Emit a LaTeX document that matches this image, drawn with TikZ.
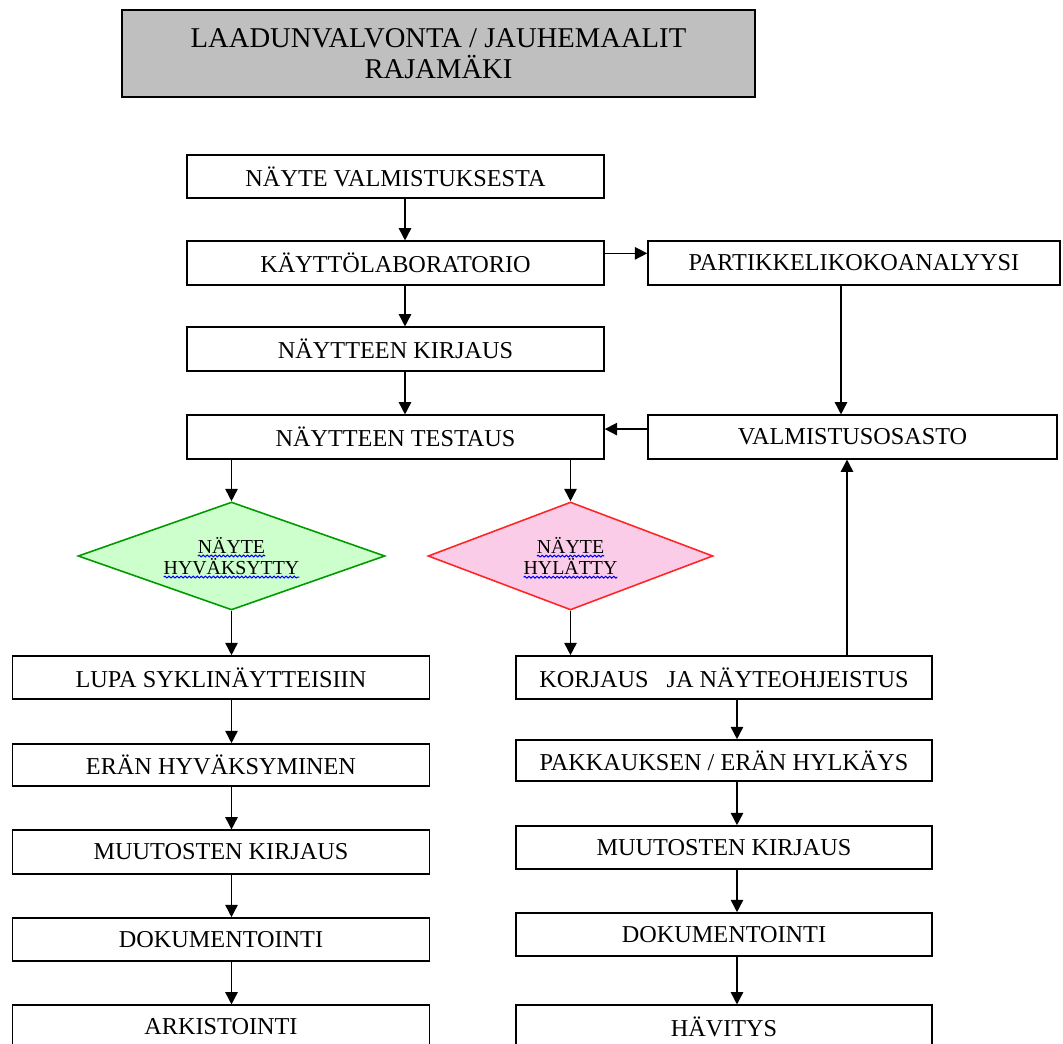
\documentclass[tikz,border=0pt]{standalone}
\usepackage{fontspec}
\setmainfont{Liberation Serif}
\usetikzlibrary{arrows.meta,shapes.geometric,decorations.pathmorphing}

\newcommand{\aalto}[1]{\tikz[baseline=(w.base)]{\node[rectangle,draw=none,fill=none,inner sep=0pt,outer sep=0pt,
    minimum width=0pt,minimum height=0pt](w){#1};
  \draw[overlay,blue,line width=0.6pt,decorate,decoration={snake,amplitude=0.5pt,segment length=2.3pt}]
    ([yshift=-1.5pt]w.base west)--([yshift=-1.5pt]w.base east);}}

\begin{document}
\begin{tikzpicture}[x=0.02cm,y=-0.02cm,line width=0.9pt,>={Triangle[length=7pt,width=7pt]},
  laatikko/.style={draw,line width=0.9pt,minimum width=8.34cm,minimum height=0.87cm,inner sep=0pt,
    font=\fontsize{13.8}{16}\selectfont},
  vinoneliö/.style={diamond,draw,line width=0.9pt,inner sep=0pt,align=center,
    font=\fontsize{11.3}{12}\selectfont}]
  \useasboundingbox (0,0) rectangle (1063,1044);
  % otsikko
  \node[draw,fill=black!25,line width=0.9pt,minimum width=12.66cm,minimum height=1.74cm,align=center,
    font=\fontsize{16.3}{18}\selectfont] (otsikko) at (438.5,53.5) {LAADUNVALVONTA / JAUHEMAALIT\\RAJAMÄKI};
  % ylin haara
  \node[laatikko] (n1) at (395.5,176.5) {NÄYTE VALMISTUKSESTA};
  \node[laatikko] (n2) at (395.5,263) {KÄYTTÖLABORATORIO};
  \node[laatikko,minimum width=8.24cm] (p) at (854,263) {PARTIKKELIKOKOANALYYSI};
  \node[laatikko] (n3) at (395.5,349) {NÄYTTEEN KIRJAUS};
  \node[laatikko] (n4) at (395.5,437) {NÄYTTEEN TESTAUS};
  \node[laatikko,minimum width=8.18cm] (v) at (852.5,437) {VALMISTUSOSASTO};
  % päätökset
  \node[vinoneliö,aspect=2.84,fill=green!20,draw=green!60!black,minimum width=6.14cm,minimum height=2.16cm] (hyv)
    at (231.5,556) {\aalto{NÄYTE}\\\aalto{HYVÄKSYTTY}};
  \node[vinoneliö,aspect=2.64,fill=magenta!20,draw=red!85,minimum width=5.7cm,minimum height=2.16cm] (hyl)
    at (570.5,556) {\aalto{NÄYTE}\\\aalto{HYLÄTTY}};
  % vasen haara
  \node[laatikko,minimum height=0.86cm] (l1) at (221,677.5) {LUPA SYKLINÄYTTEISIIN};
  \node[laatikko,minimum height=0.84cm] (l2) at (221,765) {ERÄN HYVÄKSYMINEN};
  \node[laatikko] (l3) at (221,852) {MUUTOSTEN KIRJAUS};
  \node[laatikko,minimum height=0.86cm] (l4) at (221,939.5) {DOKUMENTOINTI};
  \node[laatikko] (l5) at (221,1027) {ARKISTOINTI};
  % oikea haara
  \node[laatikko,minimum width=8.32cm,minimum height=0.86cm] (k1) at (724,677.5) {KORJAUS\ \ \ JA NÄYTEOHJEISTUS};
  \node[laatikko,minimum width=8.32cm,minimum height=0.82cm] (k2) at (724,760.5) {PAKKAUKSEN / ERÄN HYLKÄYS};
  \node[laatikko,minimum width=8.32cm,minimum height=0.86cm] (k3) at (724,847.5) {MUUTOSTEN KIRJAUS};
  \node[laatikko,minimum width=8.32cm,minimum height=0.86cm] (k4) at (724,934.5) {DOKUMENTOINTI};
  \node[laatikko,minimum width=8.32cm] (k5) at (724,1027) {HÄVITYS};
  % nuolten sarakkeet
  \coordinate (s1) at (405,0);
  \coordinate (s4) at (737,0);
  \coordinate (s5) at (841,0);
  \coordinate (s6) at (847,0);
  % nuolet
  \draw[->] (n1.south -| s1) -- (n2.north -| s1);
  \draw[->] (n2.south -| s1) -- (n3.north -| s1);
  \draw[->] (n3.south -| s1) -- (n4.north -| s1);
  \draw[->] ([yshift=5.5pt]n2.east) -- ([yshift=5.5pt]p.west);
  \draw[->] (p.south -| s5) -- (v.north -| s5);
  \draw[->] ([yshift=4.5pt]v.west) -- ([yshift=4.5pt]n4.east);
  \draw[->] (n4.south -| hyv.north) -- (hyv.north);
  \draw[->] (n4.south -| hyl.north) -- (hyl.north);
  \draw[->] (hyv.south) -- (l1.north -| hyv.south);
  \draw[->] (hyl.south) -- (k1.north -| hyl.south);
  \draw[->] (k1.north -| s6) -- (v.south -| s6);
  \draw[->] (l1.south -| hyv.south) -- (l2.north -| hyv.south);
  \draw[->] (l2.south -| hyv.south) -- (l3.north -| hyv.south);
  \draw[->] (l3.south -| hyv.south) -- (l4.north -| hyv.south);
  \draw[->] (l4.south -| hyv.south) -- (l5.north -| hyv.south);
  \draw[->] (k1.south -| s4) -- (k2.north -| s4);
  \draw[->] (k2.south -| s4) -- (k3.north -| s4);
  \draw[->] (k3.south -| s4) -- (k4.north -| s4);
  \draw[->] (k4.south -| s4) -- (k5.north -| s4);
\end{tikzpicture}
\end{document}
